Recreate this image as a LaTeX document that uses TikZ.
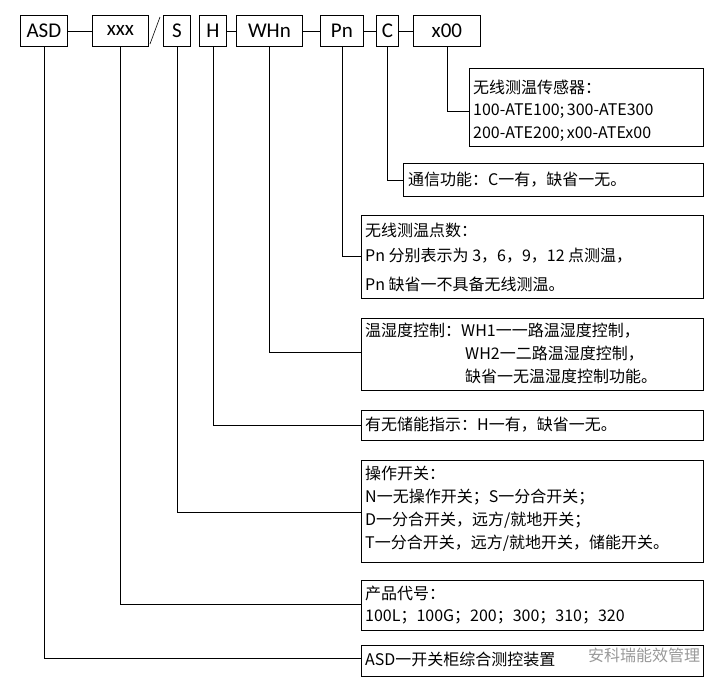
\documentclass[tikz,border=0pt]{standalone}
\usepackage{fontspec}
\setmainfont{Carlito}
\newfontfamily\cjk{Noto Sans CJK SC}
\begin{document}
\begin{tikzpicture}[x=1pt,y=-1pt,
  top/.style={draw,line width=0.8pt,inner sep=0pt,font=\fontsize{21}{21}\selectfont},
  desc/.style={draw,line width=0.8pt,inner sep=0pt},
  txt/.style={anchor=west,inner sep=0pt,font=\cjk\fontsize{16}{16}\selectfont},
  ln/.style={line width=0.8pt}]
\useasboundingbox (0,0) rectangle (728,686);
% top boxes
\def\tb#1#2#3#4{\node[top,minimum width=#3-#2,minimum height=31,anchor=north west] (#1) at (#2,15) {#4};}
\tb{asd}{20}{67}{ASD}
\tb{xxx}{92}{148}{xxx}
\tb{s}{163}{190}{S}
\tb{h}{199}{226}{H}
\tb{whn}{236}{302}{WHn}
\tb{pn}{320}{363}{Pn}
\tb{c}{376}{398}{C}
\tb{x00}{413}{480}{x00}
\draw[ln] (asd.east) -- (xxx.west);
\draw[ln] (h.east) -- (whn.west);
\draw[ln] (whn.east) -- (pn.west);
\draw[ln] (pn.east) -- (c.west);
\draw[ln] (c.east) -- (x00.west);
\coordinate (sl1) at (150,44); \coordinate (sl2) at (160,17);
\draw[line width=0.6pt] (sl1) -- (sl2);
% description boxes
\def\db#1#2#3#4{\node[desc,minimum width=703-#2,minimum height=#4-#3,anchor=north west] (#1) at (#2,#3) {};}
\db{bx00}{469}{68}{146}
\db{bc}{403}{163}{196}
\db{bpn}{361}{215}{298}
\db{bwh}{361}{318}{390}
\db{bh}{361}{410}{440}
\db{bs}{361}{460}{562}
\db{bxxx}{361}{580}{630}
\db{basd}{361}{645}{676}
% connectors
\draw[ln] (x00.south) |- (bx00.west |- 0,111);
\draw[ln] (c.south) |- (bc.west);
\draw[ln] (pn.south) |- (bpn.west |- 0,256);
\draw[ln] (whn.south) |- (bwh.west |- 0,352);
\draw[ln] (h.south) |- (bh.west);
\draw[ln] (s.south) |- (bs.west |- 0,512);
\draw[ln] (xxx.south) |- (bxxx.west |- 0,604);
\draw[ln] (asd.south) |- (basd.west |- 0,658);
% texts
\node[txt] (t1) at (473,87) {无线测温传感器：};
\node[txt] (t2) at (473,111) {100-ATE100;\,300-ATE300};
\node[txt] (t3) at (473,134) {200-ATE200;\,x00-ATEx00};
\node[txt] (t4) at (408,180) {通信功能：C一有，缺省一无。};
\node[txt] (t5) at (365,230) {无线测温点数：};
\node[txt] (t6) at (365,256) {Pn 分别表示为 3，6，9，12 点测温，};
\node[txt] (t7) at (365,284) {Pn 缺省一不具备无线测温。};
\node[txt] (t8) at (365,331) {温湿度控制：WH1一一路温湿度控制，};
\node[txt] (t9) at (465,354) {WH2一二路温湿度控制，};
\node[txt] (t10) at (465,376) {缺省一无温湿度控制功能。};
\node[txt] (t11) at (365,425) {有无储能指示：H一有，缺省一无。};
\node[txt] (t12) at (365,473) {操作开关：};
\node[txt] (t13) at (365,497) {N一无操作开关；S一分合开关；};
\node[txt] (t14) at (365,520) {D一分合开关，远方/就地开关；};
\node[txt] (t15) at (365,543) {T一分合开关，远方/就地开关，储能开关。};
\node[txt] (t16) at (365,593) {产品代号：};
\node[txt] (t17) at (365,617) {100L；100G；200；300；310；320};
\node[txt] (t18) at (365,659) {ASD一开关柜综合测控装置};
\node[txt,text=black!40] (wm) at (588,655) {安科瑞能效管理};
\end{tikzpicture}
\end{document}
